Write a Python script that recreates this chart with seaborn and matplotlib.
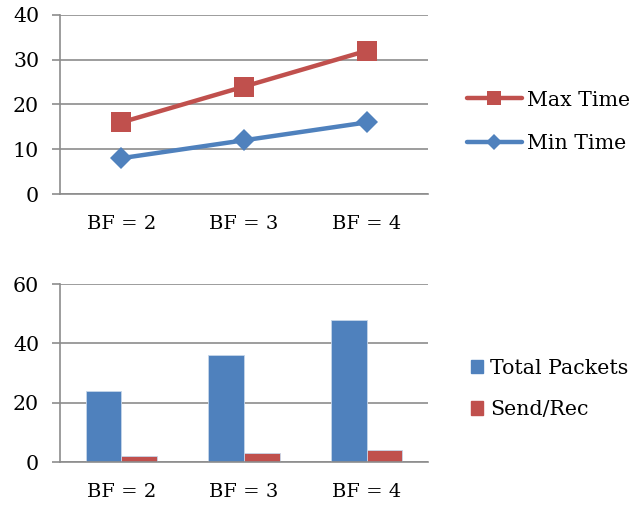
import matplotlib
matplotlib.use('Agg')
import matplotlib.pyplot as plt
from matplotlib.lines import Line2D
from matplotlib.patches import Patch
import numpy as np
import pandas as pd
import seaborn as sns

categories = ['BF = 2', 'BF = 3', 'BF = 4']
max_time = [16, 24, 32]
min_time = [8, 12, 16]
total_packets = [24, 36, 48]
send_rec = [2, 3, 4]

red = '#C0504D'
blue = '#4F81BD'
grid_c = '#8C8C8C'

sns.set_style('white')
plt.rcParams['font.family'] = ['DejaVu Serif']
plt.rcParams['font.size'] = 14.8
plt.rcParams['text.color'] = 'black'
plt.rcParams['xtick.color'] = 'black'
plt.rcParams['ytick.color'] = 'black'

fig = plt.figure(figsize=(6.39, 5.08), dpi=100)
ax1 = fig.add_axes([60/639, 1 - 194/508, 368/639, 179/508])
ax2 = fig.add_axes([60/639, 1 - 462/508, 368/639, 178/508])

# top: lines
lines = pd.DataFrame({'x': categories, 'Max Time': max_time, 'Min Time': min_time})
sns.lineplot(data=lines, x='x', y='Max Time', ax=ax1, color=red, lw=3.2,
             marker='s', markersize=14, markeredgewidth=0, sort=False)
sns.lineplot(data=lines, x='x', y='Min Time', ax=ax1, color=blue, lw=3.2,
             marker='D', markersize=11, markeredgewidth=0, sort=False)
ax1.set_ylim(0, 40)
ax1.set_yticks([0, 10, 20, 30, 40])

# bottom: bars
bars = pd.DataFrame({
    'x': categories * 2,
    'val': total_packets + send_rec,
    'series': ['Total Packets'] * 3 + ['Send/Rec'] * 3,
})
sns.barplot(data=bars, x='x', y='val', hue='series', ax=ax2,
            palette={'Total Packets': blue, 'Send/Rec': red},
            width=0.58, saturation=1, edgecolor='#c6d6ea', linewidth=0.6,
            legend=False)
ax2.set_ylim(0, 60)
ax2.set_yticks([0, 20, 40, 60])

for ax in (ax1, ax2):
    ax.set_xlim(-0.5, 2.5)
    ax.set_xlabel('')
    ax.set_ylabel('')
    ax.yaxis.grid(True, color=grid_c, lw=1.2)
    ax.set_axisbelow(True)
    for s in ('top', 'right'):
        ax.spines[s].set_visible(False)
    for s in ('left', 'bottom'):
        ax.spines[s].set_color(grid_c)
        ax.spines[s].set_linewidth(1.2)
    ax.set_xticks([0, 1, 2])
    ax.set_xticklabels(categories, fontsize=14)
    ax.set_xticks([-0.5, 0.5, 1.5, 2.5], minor=True)
    ax.tick_params(axis='x', which='major', length=0, pad=15)
    ax.tick_params(axis='x', which='minor', length=6, color=grid_c, width=1.2)
    ax.tick_params(axis='y', length=6, color=grid_c, width=1.2, pad=9, left=True)

h1 = [Line2D([], [], color=red, lw=3.2, marker='s', markersize=10, markeredgewidth=0),
      Line2D([], [], color=blue, lw=3.2, marker='D', markersize=8, markeredgewidth=0)]
fig.legend(h1, ['Max Time', 'Min Time'], loc='center left',
           bbox_to_anchor=(448/639, 1 - 122/508), frameon=False,
           handlelength=2.7, handletextpad=0.25, labelspacing=1.2)

h2 = [Patch(color=blue), Patch(color=red)]
fig.legend(h2, ['Total Packets', 'Send/Rec'], loc='center left',
           bbox_to_anchor=(452/639, 1 - 389/508), frameon=False,
           handlelength=0.62, handleheight=0.62, handletextpad=0.35, labelspacing=1.1)

fig.savefig('out.png', dpi=100)
